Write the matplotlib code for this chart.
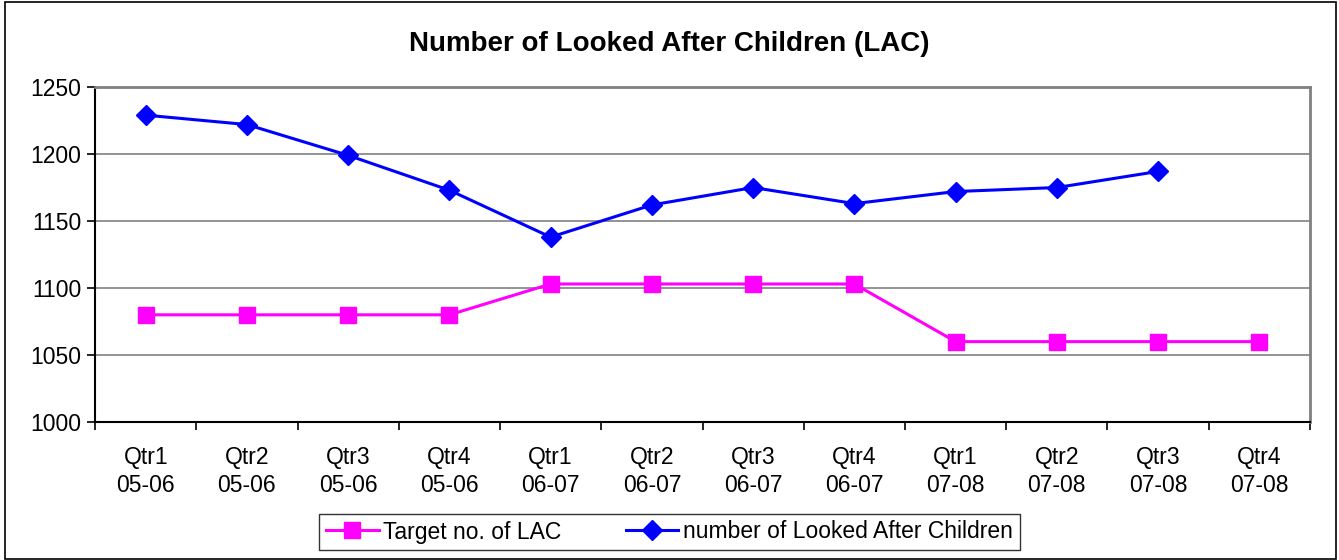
import numpy as np
import matplotlib.pyplot as plt
from matplotlib.patches import Rectangle

plt.rcParams['font.family'] = ['Liberation Sans', 'DejaVu Sans']

quarters = ['Qtr1\n05-06', 'Qtr2\n05-06', 'Qtr3\n05-06', 'Qtr4\n05-06',
            'Qtr1\n06-07', 'Qtr2\n06-07', 'Qtr3\n06-07', 'Qtr4\n06-07',
            'Qtr1\n07-08', 'Qtr2\n07-08', 'Qtr3\n07-08', 'Qtr4\n07-08']
target = [1080, 1080, 1080, 1080, 1103, 1103, 1103, 1103, 1060, 1060, 1060, 1060]
lac = [1229, 1222, 1199, 1173, 1138, 1162, 1175, 1163, 1172, 1175, 1187]

fig = plt.figure(figsize=(13.39, 5.6), dpi=100)
ax = fig.add_axes([0.071, 0.2464, 0.9073, 0.5982])

x = np.arange(len(quarters))
ax.plot(x, target, color='#ff00ff', lw=2.2, marker='s', ms=12,
        label='Target no. of LAC')
ax.plot(x[:len(lac)], lac, color='#0000ff', lw=2.2, marker='D', ms=10.5,
        label='number of Looked After Children')

ax.set_xlim(-0.5, 11.5)
ax.set_ylim(1000, 1250)
ax.set_yticks(np.arange(1000, 1251, 50))
ax.set_xticks(np.arange(-0.5, 12, 1))
ax.set_xticklabels([])
ax.set_xticks(x, minor=True)
ax.set_xticklabels(quarters, minor=True, fontsize=16.5, linespacing=1.3)
ax.tick_params(axis='x', which='minor', length=0, pad=17)
ax.tick_params(axis='x', which='major', direction='out', length=6, width=1.2)
ax.tick_params(axis='y', direction='out', length=6, width=1.2, labelsize=16.5, pad=4)

ax.yaxis.grid(True, color='#808080', lw=1.2)
ax.set_axisbelow(True)
for s in ['left', 'bottom']:
    ax.spines[s].set_color('black')
    ax.spines[s].set_linewidth(1.5)
for s in ['top', 'right']:
    ax.spines[s].set_color('#808080')
    ax.spines[s].set_linewidth(2)

fig.text(0.5, 0.922, 'Number of Looked After Children (LAC)', ha='center', va='center',
         fontsize=20, fontweight='bold')

leg = fig.legend(loc='center', bbox_to_anchor=(0.5, 0.05), ncol=2, fontsize=16.5,
                 frameon=True, fancybox=False, edgecolor='black', handlelength=2.3,
                 handletextpad=0.2, columnspacing=2.8, borderpad=0.3)
leg.get_frame().set_linewidth(1)

fig.patches.append(Rectangle((0.004, 0.002), 0.994, 0.995, transform=fig.transFigure,
                             fill=False, edgecolor='black', lw=1.2))

fig.savefig('out.png', dpi=100)
